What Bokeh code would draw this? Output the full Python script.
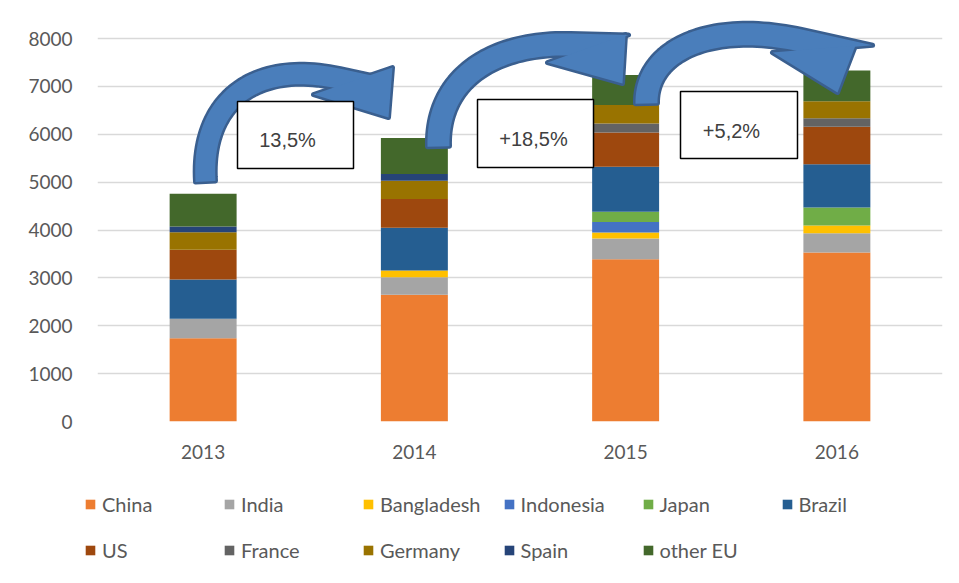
from bokeh.plotting import figure
from bokeh.layouts import column
from bokeh.models import FactorRange, Range1d, FixedTicker, Legend, LegendItem, ColumnDataSource
from bokeh.core.properties import value
from bokeh.embed import file_html
from bokeh.resources import INLINE

# ---------------- data ----------------
years = ["2013", "2014", "2015", "2016"]
countries = ["China", "India", "Bangladesh", "Indonesia", "Japan", "Brazil",
             "US", "France", "Germany", "Spain", "other EU"]
china      = [1740, 2645, 3390, 3530]
india      = [405, 370, 430, 400]
bangladesh = [0, 140, 130, 165]
indonesia  = [0, 0, 215, 0]
japan      = [0, 0, 215, 375]
brazil     = [820, 890, 940, 905]
us         = [620, 605, 715, 780]
france     = [0, 0, 190, 180]
germany    = [370, 380, 385, 355]
spain      = [120, 140, 0, 0]
other_eu   = [680, 750, 630, 640]
growth_labels = ["13,5%", "+18,5%", "+5,2%"]
y_ticks = [0, 1000, 2000, 3000, 4000, 5000, 6000, 7000, 8000]

colors = ["#ED7D31", "#A5A5A5", "#FFC000", "#4472C4", "#70AD47", "#255E91",
          "#9E480E", "#636363", "#997300", "#264478", "#43682B"]

series = [china, india, bangladesh, indonesia, japan, brazil, us, france,
          germany, spain, other_eu]
data = {"year": years}
for name, vals in zip(countries, series):
    data[name] = vals
source = ColumnDataSource(data)

# ---------------- layout (page pixels) ----------------
W = 955
H_MAIN, H_LEG = 470, 110
FL, FR = 97.0, 942.0          # frame left/right
Y8000, FB = 38.0, 421.0       # pixel rows of 8000 and 0
FT = 10.0                     # frame top (room for arrows above 8000)
YMAX = 8000 * (FB - FT) / (FB - Y8000)

p = figure(width=W, height=H_MAIN, x_range=FactorRange(*years, range_padding=0),
           y_range=Range1d(0, YMAX), output_backend="svg", toolbar_location=None,
           min_border_left=int(FL), min_border_right=int(W - FR),
           min_border_top=int(FT), min_border_bottom=int(H_MAIN - FB))
p.outline_line_color = None
p.background_fill_color = "white"
p.border_fill_color = "white"

FONT = "Lato"
p.yaxis.ticker = FixedTicker(ticks=y_ticks)
for ax in (p.xaxis[0], p.yaxis[0]):
    ax.axis_line_color = None
    ax.major_tick_line_color = None
    ax.minor_tick_line_color = None
    ax.major_label_text_font = FONT
    ax.major_label_text_font_size = "19px"
    ax.major_label_text_color = "#595959"
p.yaxis.major_label_standoff = 19
p.xaxis.major_label_standoff = 17
p.xgrid.grid_line_color = None
p.ygrid.grid_line_color = "#d9d9d9"
p.ygrid.grid_line_width = 1.5

rends = p.vbar_stack(countries, x="year", width=0.317, source=source,
                     color=colors, line_color=None)

# ---------------- annotations: curved arrows + boxes ----------------
def X(px):
    return (px - FL) / (FR - FL) * len(years)

def Y(py):
    return (FB - py) / (FB - Y8000) * 8000

def bez(P, t):
    (x0, y0), (x1, y1), (x2, y2), (x3, y3) = P
    a, b, c, d = (1 - t) ** 3, 3 * (1 - t) ** 2 * t, 3 * (1 - t) * t ** 2, t ** 3
    dx = 3 * (1 - t) ** 2 * (x1 - x0) + 6 * (1 - t) * t * (x2 - x1) + 3 * t ** 2 * (x3 - x2)
    dy = 3 * (1 - t) ** 2 * (y1 - y0) + 6 * (1 - t) * t * (y2 - y1) + 3 * t ** 2 * (y3 - y2)
    n = (dx * dx + dy * dy) ** 0.5
    return (a * x0 + b * x1 + c * x2 + d * x3, a * y0 + b * y1 + c * y2 + d * y3, dx / n, dy / n)

def arrow(P, h, head, n=48):
    B1, B2, T = head
    ux, uy = B2[0] - B1[0], B2[1] - B1[1]
    mx, my = -uy, ux
    left, right = [], []
    for i in range(n + 1):
        x, y, tx, ty = bez(P, i / n)
        nx, ny = -ty, tx
        left.append((x + h * nx, y + h * ny, tx, ty))
        right.append((x - h * nx, y - h * ny, tx, ty))
    def extend(q):
        x, y, tx, ty = q
        s = (mx * (B1[0] - x) + my * (B1[1] - y)) / (mx * tx + my * ty)
        return (x + (s + 4) * tx, y + (s + 4) * ty)
    body = [(q[0], q[1]) for q in left] + [extend(left[-1]), extend(right[-1])] + \
           [(q[0], q[1]) for q in reversed(right)]
    return ([X(a) for a, _ in body], [Y(b) for _, b in body],
            [X(a) for a, _ in head], [Y(b) for _, b in head])

arrow_specs = [
    ([(205, 181), (200, 100), (255, 60), (338, 78)], 10, [(313, 94), (392, 67), (388, 117)]),
    ([(438, 146), (436, 80), (490, 42), (570, 44)], 11, [(547, 62), (625, 34), (622, 83)]),
    ([(646, 103), (645, 50), (710, 20), (800, 40)], 11, [(772, 52), (855, 45), (837, 92)]),
]
xs, ys = [], []
for P, h, head in arrow_specs:
    bx, by, hx, hy = arrow(P, h, head)
    xs += [bx, hx]
    ys += [by, hy]
p.patches(xs, ys, fill_color="#3a5f8f", line_color="#3a5f8f", line_width=5, line_join="round")
p.patches(xs, ys, fill_color="#4a7ebb", line_color=None)

boxes = [(237, 353, 101, 168), (477, 593, 99, 167), (680, 797, 91, 158)]
p.quad(left=[X(b[0]) for b in boxes], right=[X(b[1]) for b in boxes],
       top=[Y(b[2]) for b in boxes], bottom=[Y(b[3]) for b in boxes],
       fill_color="white", line_color="black", line_width=1.5)
text_pos = [(287, 139), (533, 138), (731, 130)]
p.text(x=[X(a) for a, _ in text_pos], y=[Y(b) for _, b in text_pos], text=growth_labels,
       text_align="center", text_baseline="middle", text_font=value("Liberation Sans"),
       text_font_size="20px", text_color="#404040")

# ---------------- legend strip below the chart ----------------
pl = figure(width=W, height=H_LEG, x_range=Range1d(0, 1), y_range=Range1d(0, 1),
            output_backend="svg", toolbar_location=None, min_border=0,
            x_axis_location=None, y_axis_location=None)
legend_x = 83 - FL
if "frame_align" in pl.properties():
    pl.frame_align = False
    legend_x = 84
pl.grid.visible = False
pl.outline_line_color = None
pl.background_fill_color = "white"
pl.border_fill_color = "white"
# legend proxies (kept outside the visible range of this strip)
leg_rends = [pl.vbar(x=[-5], top=[-5], bottom=[-6], width=0.1, fill_color=c, line_color=None)
             for c in colors]

legend = Legend(items=[LegendItem(label=c, renderers=[r]) for c, r in zip(countries, leg_rends)],
                ncols=6, orientation="horizontal", location=(legend_x, 18),
                glyph_width=12, glyph_height=12, label_standoff=6,
                label_width=99, spacing=22, padding=0, margin=0,
                border_line_color=None, background_fill_alpha=0,
                label_text_font=FONT, label_text_font_size="20px",
                label_text_color="#595959")
pl.add_layout(legend)

open("out.html", "w").write(file_html(column(p, pl, spacing=0), INLINE))
